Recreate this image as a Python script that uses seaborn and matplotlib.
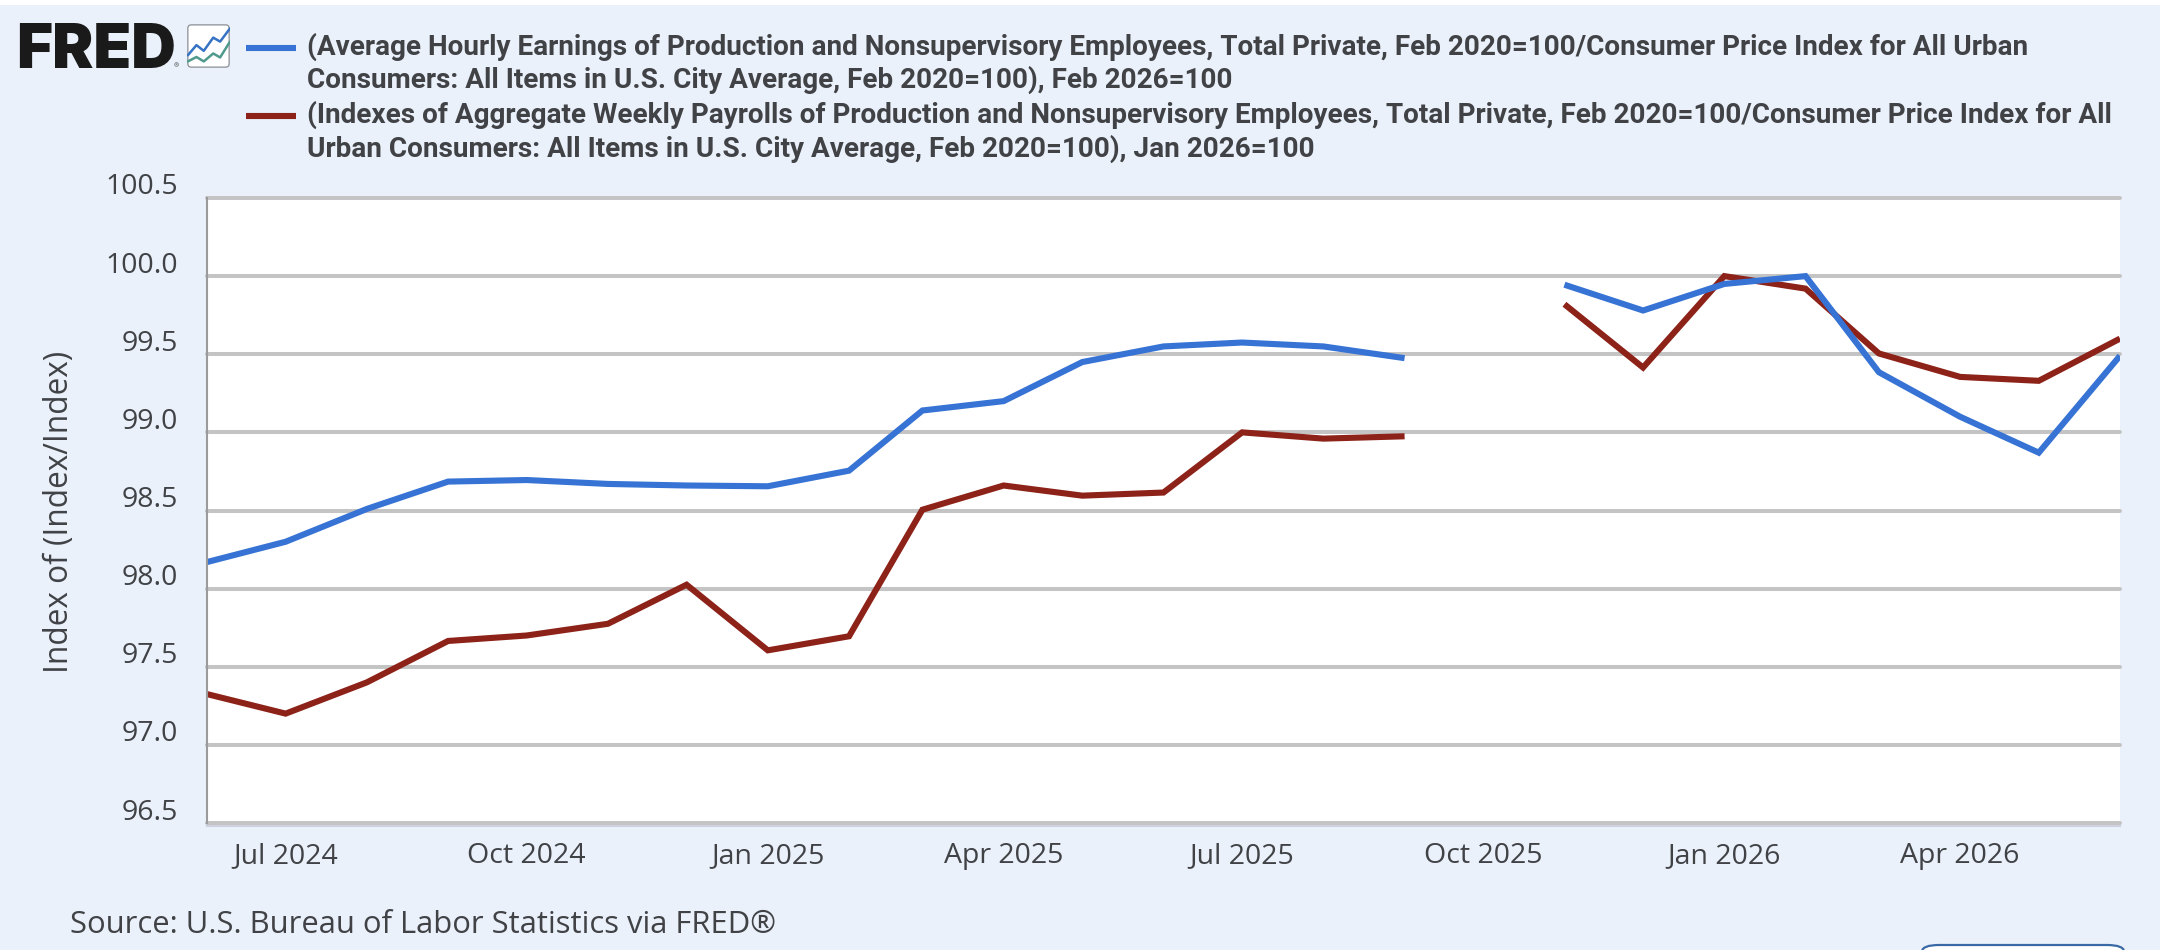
import numpy as np
import pandas as pd
import matplotlib
matplotlib.use("Agg")
import matplotlib.pyplot as plt
import matplotlib.dates as mdates
from matplotlib.patches import FancyBboxPatch
from matplotlib.transforms import ScaledTranslation
import seaborn as sns

W, H = 2160, 950

months = pd.date_range("2024-06-01", "2026-06-01", freq="MS")
earnings = [98.17, 98.30, 98.51, 98.685, 98.695, 98.67, 98.66, 98.655, 98.755,
            99.14, 99.20, 99.45, 99.55, 99.575, 99.55, 99.475, np.nan,
            99.945, 99.78, 99.95, 100.0, 99.385, 99.10, 98.87, 99.49]
payrolls = [97.325, 97.20, 97.40, 97.665, 97.70, 97.775, 98.025, 97.605, 97.695,
            98.505, 98.66, 98.595, 98.615, 99.0, 98.96, 98.975, np.nan,
            99.82, 99.415, 100.0, 99.92, 99.505, 99.355, 99.33, 99.60]
y_ticks = [96.5, 97.0, 97.5, 98.0, 98.5, 99.0, 99.5, 100.0, 100.5]
x_tick_dates = ["2024-07-01", "2024-10-01", "2025-01-01", "2025-04-01",
                "2025-07-01", "2025-10-01", "2026-01-01", "2026-04-01"]
x_tick_labels = ["Jul 2024", "Oct 2024", "Jan 2025", "Apr 2025",
                 "Jul 2025", "Oct 2025", "Jan 2026", "Apr 2026"]
legend_lines = [
    "(Average Hourly Earnings of Production and Nonsupervisory Employees, Total Private, Feb 2020=100/Consumer Price Index for All Urban",
    "Consumers: All Items in U.S. City Average, Feb 2020=100), Feb 2026=100",
    "(Indexes of Aggregate Weekly Payrolls of Production and Nonsupervisory Employees, Total Private, Feb 2020=100/Consumer Price Index for All",
    "Urban Consumers: All Items in U.S. City Average, Feb 2020=100), Jan 2026=100",
]
icon_x = [2, 22, 39, 61, 77, 100]
icon_upper = [29, 52, 39, 69, 60, 90]
icon_lower = [15, 25, 15, 33, 24, 60]

BLUE = "#3673d4"
RED = "#8d2219"
PAGE = "#eaf1fa"
GRID = "#c4c4c4"
INK = "#404246"


def fx(px):
    return px / W


def fy(px):
    return 1 - px / H


def long_form(name, values):
    frame = pd.DataFrame({"date": months, "value": values, "series": name})
    frame["segment"] = frame["value"].isna().cumsum()
    return frame.dropna()


data = pd.concat([long_form("earnings", earnings), long_form("payrolls", payrolls)])

sns.set_theme(style="white")
plt.rcParams["font.family"] = ["Open Sans", "DejaVu Sans"]

fig = plt.figure(figsize=(W / 100, H / 100), dpi=100, facecolor=PAGE)
fig.patches.append(plt.Rectangle((0, fy(5)), 1, 5 / H, transform=fig.transFigure,
                                 facecolor="white", edgecolor="none"))

ax = fig.add_axes([fx(207), fy(823), fx(2120 - 207), (823 - 198) / H], facecolor="white")
sns.lineplot(data=data, x="date", y="value", hue="series", units="segment", estimator=None,
             palette={"earnings": BLUE, "payrolls": RED}, hue_order=["payrolls", "earnings"],
             linewidth=4.4, legend=False, ax=ax, solid_joinstyle="miter", solid_capstyle="butt")

ax.set_xlim(pd.Timestamp("2024-06-01"), pd.Timestamp("2026-06-01"))
ax.set_ylim(96.5, 100.5)
ax.set_yticks(y_ticks)
ax.set_yticklabels([f"{v:.1f}" for v in y_ticks])
ax.set_xticks(mdates.date2num(pd.to_datetime(x_tick_dates)))
ax.set_xticklabels(x_tick_labels)
ax.set_xlabel("")
ax.set_ylabel("Index of (Index/Index)", fontsize=22.8, color=INK, labelpad=0)
ax.yaxis.set_label_coords((76 - 207) / (2120 - 207), 0.497)

ax.grid(axis="y", color=GRID, linewidth=2.9, zorder=0)
ax.grid(axis="x", visible=False)
ax.set_axisbelow(True)
for gridline in ax.get_ygridlines():
    gridline.set_clip_on(False)

for side in ("top", "right"):
    ax.spines[side].set_visible(False)
ax.spines["left"].set_color("#9b9b9b")
ax.spines["left"].set_linewidth(1.5)
ax.spines["bottom"].set_color("#cdd1e0")
ax.spines["bottom"].set_linewidth(1.5)
ax.spines["bottom"].set_position(("outward", 2))

ax.tick_params(axis="y", length=0, pad=21, labelsize=20.5, labelcolor=INK)
ax.tick_params(axis="x", length=14, width=1.2, color="#cfd4e3", pad=-2.3,
               labelsize=20.5, labelcolor=INK)
lift = ScaledTranslation(0, 14 / 100, fig.dpi_scale_trans)
for label in ax.get_yticklabels():
    label.set_transform(label.get_transform() + lift)

# Legend: swatches and wrapped descriptions
for y_px, colour in ((48, BLUE), (116, RED)):
    fig.add_artist(plt.Line2D([fx(246), fx(296)], [fy(y_px), fy(y_px)], color=colour,
                              linewidth=4.4, solid_capstyle="butt"))
for line, baseline in zip(legend_lines, (55, 88, 122.5, 156.5)):
    fig.text(fx(307), fy(baseline), line, family="Roboto", fontweight="bold",
             fontsize=20.05, color="#404246", va="baseline", ha="left")

fig.text(fx(70), fy(933), "Source: U.S. Bureau of Labor Statistics via FRED®",
         fontsize=22.3, color=INK, va="baseline", ha="left")

# Brand mark and sparkline icon
fig.text(fx(16), fy(68), "FRED", family="Inter", fontweight="black", fontsize=44.5,
         color="#1a1a1a", va="baseline", ha="left")
fig.text(fx(174), fy(68), "®", family="Inter", fontsize=5.5, color="#555555",
         va="baseline", ha="left")
icon = fig.add_axes([fx(187), fy(68), fx(43), 44 / H], facecolor="none")
icon.set_axis_off()
icon.set_xlim(0, 100)
icon.set_ylim(0, 100)
icon.add_patch(FancyBboxPatch((2, 2), 96, 96, boxstyle="round,pad=0,rounding_size=8",
                              facecolor="white", edgecolor="#8a8f94", linewidth=0.9))
sns.lineplot(x=icon_x, y=icon_upper, color="#3673c4", linewidth=1.8, ax=icon, estimator=None)
sns.lineplot(x=icon_x, y=icon_lower, color="#4f9a8c", linewidth=1.8, ax=icon, estimator=None)

# Partly visible rounded button at the lower edge
fig.add_artist(FancyBboxPatch((fx(1922), fy(975)), fx(202), 30 / H, transform=fig.transFigure,
                              boxstyle="round,pad=0,rounding_size=0.008", facecolor="white",
                              edgecolor="#3a6aa5", linewidth=1.6, mutation_aspect=H / W * 2))

fig.savefig("out.png", dpi=100, facecolor=PAGE)
